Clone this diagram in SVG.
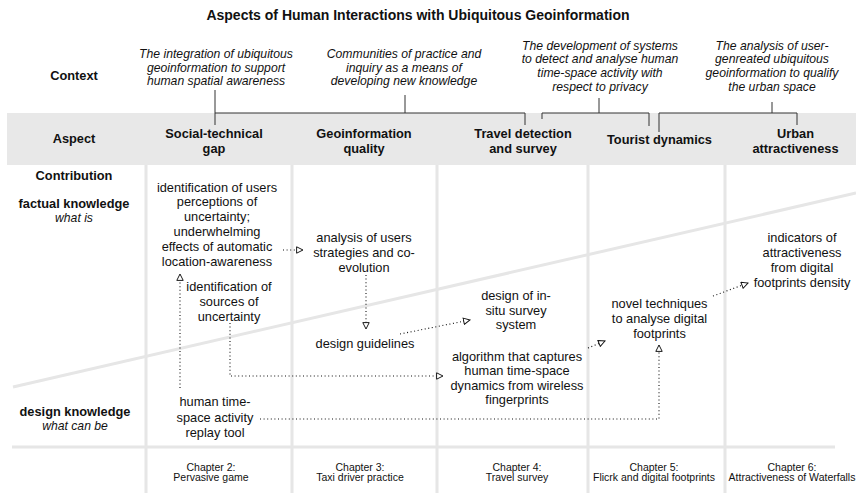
<svg xmlns="http://www.w3.org/2000/svg" width="856" height="493" viewBox="0 0 856 493">
<style>
text{font-family:"Liberation Sans",Arial,Helvetica,sans-serif;fill:#111;text-anchor:middle}
.t{font-size:14px;font-weight:bold}
.h{font-size:12.8px;font-weight:bold}
.i{font-size:12.2px;font-style:italic}
.b{font-size:12.8px}
.c{font-size:10.5px}
.grid{stroke:#e6e6e6;stroke-width:3;fill:none}
.br{stroke:#333;stroke-width:1;fill:none}
.dot{stroke:#111;stroke-width:1.1;stroke-dasharray:1 2.6;fill:none}
</style>
<defs>
<marker id="ah" viewBox="0 0 10 10" refX="9" refY="5" markerWidth="8" markerHeight="8" markerUnits="userSpaceOnUse" orient="auto">
<path d="M1,1 L9,5 L1,9 Z" fill="#fff" stroke="#111" stroke-width="1.2"/>
</marker>
</defs>
<rect width="856" height="493" fill="#fff"/>
<g id="background">
<rect x="7" y="113" width="849" height="52" fill="#e8e8e8"/>
<line class="grid" x1="146" y1="165" x2="146" y2="493"/>
<line class="grid" x1="292" y1="165" x2="292" y2="493"/>
<line class="grid" x1="437" y1="165" x2="437" y2="493"/>
<line class="grid" x1="588" y1="165" x2="588" y2="493"/>
<line class="grid" x1="725" y1="165" x2="725" y2="493"/>
<line class="grid" x1="12" y1="447" x2="835" y2="447"/>
<line class="grid" x1="13" y1="387" x2="856" y2="193"/>
</g>
<text class="t" x="418" y="20">Aspects of Human Interactions with Ubiquitous Geoinformation</text>
<g id="row-labels">
<text class="h" x="74" y="79.5">Context</text>
<text class="h" x="74" y="142.5">Aspect</text>
<text class="h" x="74" y="179.5">Contribution</text>
<text x="74" y="207.5"><tspan class="h">factual knowledge</tspan><tspan class="i" x="74" y="221.5">what is</tspan></text>
<text x="75" y="416.2"><tspan class="h">design knowledge</tspan><tspan class="i" x="75" y="430">what can be</tspan></text>
</g>
<g id="context-brackets">
<path class="br" d="M215,90 V125 M215,113 H525 V125 M405,95 V113"/>
<path class="br" d="M542,119 V113 H649 V126 M599,98 V113"/>
<path class="br" d="M659,132 V113 H797 V125 M772,102 V113"/>
</g>
<g id="context-1"><text class="i" x="216" y="57.8">The integration of ubiquitous<tspan x="216" y="71.5">geoinformation to support</tspan><tspan x="216" y="85.2">human spatial awareness</tspan></text></g>
<g id="context-2"><text class="i" x="404" y="57.8">Communities of practice and<tspan x="404" y="71.5">inquiry as a means of</tspan><tspan x="404" y="85.2">developing new knowledge</tspan></text></g>
<g id="context-3"><text class="i" x="600" y="49.5">The development of systems<tspan x="600" y="63.2">to detect and analyse human</tspan><tspan x="600" y="76.9">time-space activity with</tspan><tspan x="600" y="90.6">respect to privacy</tspan></text></g>
<g id="context-4"><text class="i" x="772" y="49.5">The analysis of user-<tspan x="772" y="63.2">genreated ubiquitous</tspan><tspan x="772" y="76.9">geoinformation to qualify</tspan><tspan x="772" y="90.6">the urban space</tspan></text></g>
<g id="aspect-1"><text class="h" x="214" y="137.5">Social-technical<tspan x="214" y="152.5">gap</tspan></text></g>
<g id="aspect-2"><text class="h" x="364" y="137.5">Geoinformation<tspan x="364" y="152.5">quality</tspan></text></g>
<g id="aspect-3"><text class="h" x="523" y="137.5">Travel detection<tspan x="523" y="152.5">and survey</tspan></text></g>
<g id="aspect-4"><text class="h" x="659.5" y="143.5">Tourist dynamics</text></g>
<g id="aspect-5"><text class="h" x="795.5" y="137.5">Urban<tspan x="795.5" y="152.5">attractiveness</tspan></text></g>
<g id="connectors">
<path class="dot" d="M283,250 H303" marker-end="url(#ah)"/>
<path class="dot" d="M366,275 V329" marker-end="url(#ah)"/>
<path class="dot" d="M180,388 V274" marker-end="url(#ah)"/>
<path class="dot" d="M230,323 V376 H443" marker-end="url(#ah)"/>
<path class="dot" d="M400,334 L470,320" marker-end="url(#ah)"/>
<path class="dot" d="M588,348 L605,341" marker-end="url(#ah)"/>
<path class="dot" d="M713,296 L748,283" marker-end="url(#ah)"/>
<path class="dot" d="M260,419 H659 V345" marker-end="url(#ah)"/>
</g>
<g id="n-perceptions"><text class="b" x="217" y="191.5">identification of users<tspan x="217" y="206.3">perceptions of</tspan><tspan x="217" y="221.1">uncertainty;</tspan><tspan x="217" y="235.9">underwhelming</tspan><tspan x="217" y="250.7">effects of automatic</tspan><tspan x="217" y="265.5">location-awareness</tspan></text></g>
<g id="n-sources"><text class="b" x="229" y="290.5">identification of<tspan x="229" y="305.5">sources of</tspan><tspan x="229" y="320.5">uncertainty</tspan></text></g>
<g id="n-replay"><text class="b" x="215" y="406">human time-<tspan x="215" y="421.5">space activity</tspan><tspan x="215" y="437">replay tool</tspan></text></g>
<g id="n-analysis"><text class="b" x="364" y="241.5">analysis of users<tspan x="364" y="256.5">strategies and co-</tspan><tspan x="364" y="271.5">evolution</tspan></text></g>
<g id="n-guidelines"><text class="b" x="365" y="347.5">design guidelines</text></g>
<g id="n-insitu"><text class="b" x="516" y="299.5">design of in-<tspan x="516" y="314.5">situ survey</tspan><tspan x="516" y="328.5">system</tspan></text></g>
<g id="n-algorithm"><text class="b" x="517" y="360.5">algorithm that captures<tspan x="517" y="375">human time-space</tspan><tspan x="517" y="389.5">dynamics from wireless</tspan><tspan x="517" y="404">fingerprints</tspan></text></g>
<g id="n-novel"><text class="b" x="659.5" y="307.5">novel techniques<tspan x="659.5" y="322.5">to analyse digital</tspan><tspan x="659.5" y="337.5">footprints</tspan></text></g>
<g id="n-indicators"><text class="b" x="802" y="241.5">indicators of<tspan x="802" y="256.5">attractiveness</tspan><tspan x="802" y="271.5">from digital</tspan><tspan x="802" y="286.5">footprints density</tspan></text></g>
<g id="chapters">
<text class="c" x="211" y="470.7">Chapter 2:<tspan x="211" y="481.2">Pervasive game</tspan></text>
<text class="c" x="360" y="470.7">Chapter 3:<tspan x="360" y="481.2">Taxi driver practice</tspan></text>
<text class="c" x="517" y="470.7">Chapter 4:<tspan x="517" y="481.2">Travel survey</tspan></text>
<text class="c" x="654" y="470.7">Chapter 5:<tspan x="654" y="481.2">Flicrk and digital footprints</tspan></text>
<text class="c" x="792" y="470.7">Chapter 6:<tspan x="792" y="481.2">Attractiveness of Waterfalls</tspan></text>
</g>
</svg>
